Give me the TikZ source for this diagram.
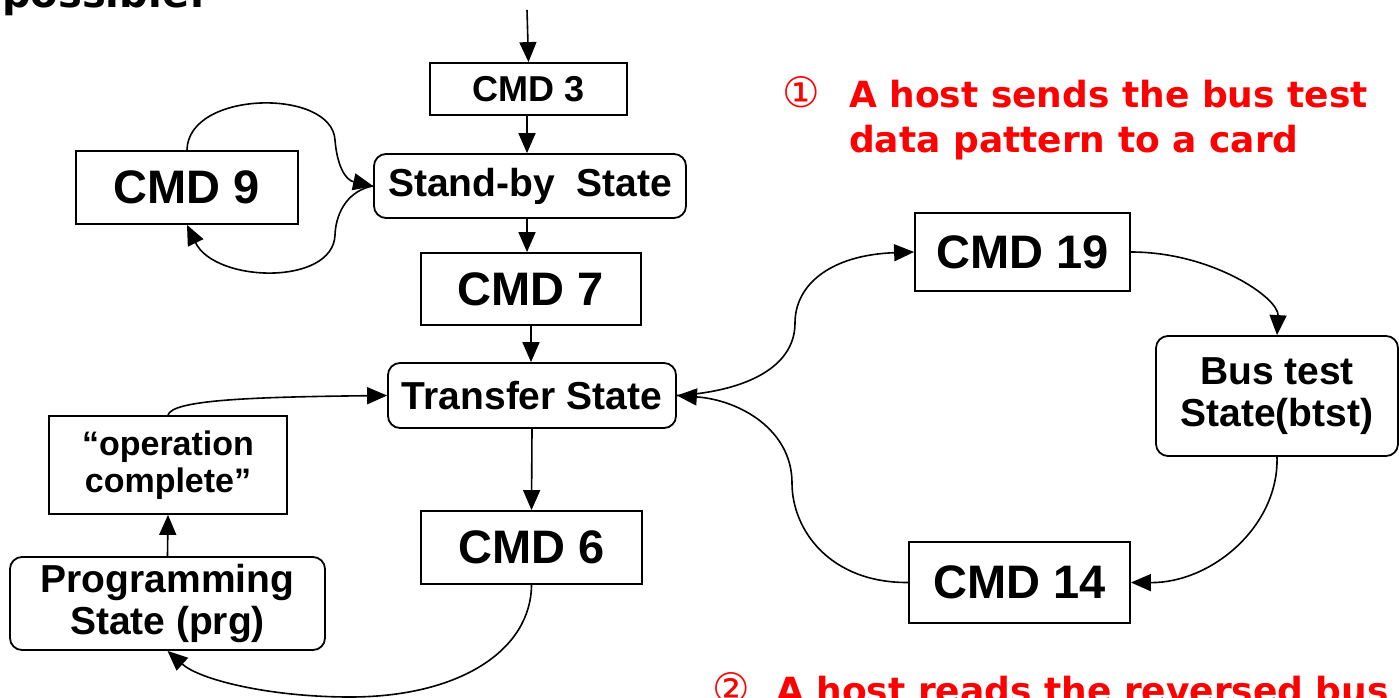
\documentclass[tikz,border=0pt]{standalone}
\usepackage{fontspec}
\setmainfont{Liberation Sans}
\newfontfamily\vfont{DejaVu Sans}
\usetikzlibrary{arrows.meta}
\newcommand\fsState{\fontsize{39}{42}\selectfont}
\newcommand\fsBig{\fontsize{47}{50}\selectfont}
\newcommand\fsSmall{\fontsize{36}{40}\selectfont}
\newcommand\fsOp{\fontsize{34}{37}\selectfont}
\newcommand\fsRed{\fontsize{36}{46}\selectfont}
\begin{document}
\begin{tikzpicture}[x=1pt,y=-1pt,
  box/.style={draw, line width=1.8pt, inner sep=0pt, align=center, font=\bfseries},
  rbox/.style={box, rounded corners=12pt},
  tip/.tip={Triangle[length=20pt,width=17pt]},
  arr/.style={line width=1.6pt, -tip},
  redtxt/.style={text=red, inner sep=0pt, align=left, font=\vfont\bfseries\fsRed},
  rednum/.style={text=red, inner sep=0pt, font=\vfont\fontsize{42}{42}\selectfont}]
\useasboundingbox (0,0) rectangle (1399,698);
\clip (0,0) rectangle (1399,698);

% caption fragments
\node[inner sep=0pt, anchor=base west, font=\vfont\bfseries\fontsize{40}{40}\selectfont] (cap) at (2,8) {possible:};
\node[rednum, anchor=base west] (n1) at (782,107) {①};
\node[redtxt, anchor=base west] (t1) at (849,153) {A host sends the bus test\\data pattern to a card};
\node[rednum, anchor=base west] (n2) at (712,703) {②};
\node[redtxt, anchor=base west] (t2) at (776,703) {A host reads the reversed bus test data pattern};

% nodes
\coordinate (entry) at (527,10);
\node[box, minimum width=197pt, minimum height=52pt, font=\bfseries\fsSmall] (cmd3) at (528.5,89) {CMD 3};
\node[rbox, minimum width=312pt, minimum height=64pt, font=\bfseries\fsState] (stby) at (530,186) {Stand-by\ \ State};
\node[box, minimum width=222pt, minimum height=73pt, font=\bfseries\fsBig] (cmd9) at (187,187.5) {CMD 9};
\node[box, minimum width=220pt, minimum height=72pt, font=\bfseries\fsBig] (cmd7) at (531,289) {CMD 7};
\node[rbox, minimum width=288pt, minimum height=65pt, font=\bfseries\fsState] (tran) at (532,395.5) {Transfer State};
\node[box, minimum width=238pt, minimum height=98pt, font=\bfseries\fsOp] (opc) at (168,465) {“operation\\complete”};
\node[rbox, minimum width=315pt, minimum height=93pt, font=\bfseries\fsState] (prg) at (167.5,603.5) {Programming\\State (prg)};
\node[box, minimum width=221pt, minimum height=73pt, font=\bfseries\fsBig] (cmd6) at (531.5,547.5) {CMD 6};
\node[box, minimum width=215pt, minimum height=78pt, font=\bfseries\fsBig] (cmd19) at (1022.5,252) {CMD 19};
\node[rbox, minimum width=242pt, minimum height=120pt, font=\bfseries\fsState] (bus) at (1277,396) {Bus test\\State(btst)};
\node[box, minimum width=221pt, minimum height=81pt, font=\bfseries\fsBig] (cmd14) at (1019.5,582.5) {CMD 14};

% connectors
\draw[arr] (entry) -- (cmd3.north);
\draw[arr] (cmd3.south -| entry) -- (stby.north -| entry);
\draw[arr] (stby.south -| entry) -- (cmd7.north -| entry);
\draw[arr] (cmd7.south) -- (tran.north -| cmd7.south);
\draw[arr] (tran.south) -- (cmd6.north);
\draw[arr] (cmd9.north) .. controls (188,90) and (332,88) .. (335,140)
  .. controls (337,165) and (345,180) .. (stby.west);
\draw[arr] (stby.west) .. controls (350,190) and (336,210) .. (335,235)
  .. controls (333,286) and (215,283) .. (cmd9.south);
\draw[arr] (prg.north) -- (opc.south);
\draw[arr] (opc.north) .. controls (172,400) and (250,397) .. (tran.west);
\draw[arr] (cmd6.south) .. controls (531,650) and (460,697) .. (350,697)
  .. controls (270,697) and (200,680) .. (prg.south);
\draw[arr] (tran.east) .. controls (740,392) and (795,370) .. (795,323)
  .. controls (795,285) and (830,255) .. (cmd19.west);
\draw[arr] (cmd19.east) .. controls (1212,252) and (1279,298) .. (bus.north);
\draw[arr] (bus.south) .. controls (1279,526) and (1212,583) .. (cmd14.east);
\draw[arr] (cmd14.west) .. controls (830,583) and (792,530) .. (792,483)
  .. controls (792,430) and (740,400) .. (tran.east);
\end{tikzpicture}
\end{document}
